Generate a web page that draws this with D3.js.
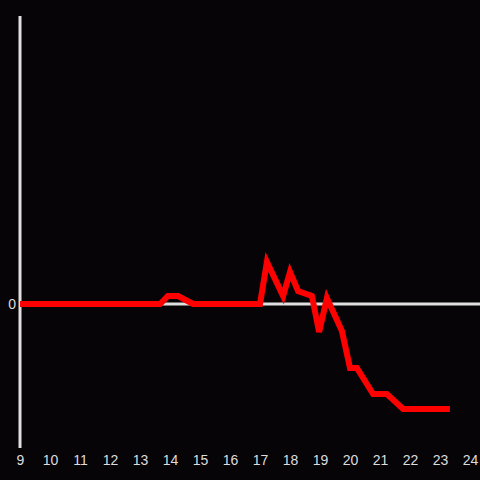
<!DOCTYPE html>
<html>
<head>
<meta charset="utf-8">
<script src="https://cdn.jsdelivr.net/npm/d3@7"></script>
<style>
  html, body { margin: 0; padding: 0; background: #060407; }
  svg { display: block; }
</style>
</head>
<body>
<div id="chart"></div>
<script>
// hour of day and value
const hours  = [9, 13.67, 13.93, 14.27, 14.77, 17.0, 17.23, 17.77, 18.0, 18.27, 18.73, 18.97, 19.23, 19.73, 20.0, 20.23, 20.77, 21.23, 21.77, 23.33]
const values = [0, 0, 0.08, 0.08, 0, 0, 0.42, 0.08, 0.32, 0.13, 0.08, -0.28, 0.06, -0.27, -0.64, -0.64, -0.90, -0.90, -1.05, -1.05]
const xTicks = [9, 10, 11, 12, 13, 14, 15, 16, 17, 18, 19, 20, 21, 22, 23, 24]
const yTicks = [0]

const width = 480, height = 480

const svg = d3.select('#chart')
  .append('svg')
    .attr('width', width)
    .attr('height', height)

svg.append('rect')
    .attr('width', width)
    .attr('height', height)
    .attr('fill', '#060407')

const x = d3.scaleLinear()
    .domain([9, 24])
    .range([20, 470])

const y = d3.scaleLinear()
    .domain([-1.45, 2.87])
    .range([448, 16])

const axisColor = '#e0e0e0'

// zero line
svg.append('line')
    .attr('x1', x(9))
    .attr('x2', width)
    .attr('y1', y(0) + 1)
    .attr('y2', y(0) + 1)
    .attr('stroke', axisColor)
    .attr('stroke-width', 3)

// y axis
svg.append('line')
    .attr('x1', x(9))
    .attr('x2', x(9))
    .attr('y1', y.range()[1])
    .attr('y2', y.range()[0])
    .attr('stroke', axisColor)
    .attr('stroke-width', 3)

const xAxis = d3.axisBottom(x).tickValues(xTicks).tickSize(0).tickPadding(0)
svg.append('g')
    .attr('transform', `translate(0,${455})`)
    .call(xAxis)
    .call(g => g.select('.domain').remove())
    .selectAll('text')
      .attr('fill', '#dddddd')
      .attr('font-size', 14)
      .attr('font-family', 'Liberation Sans, Arial, sans-serif')
      .attr('dy', '0.71em')

const yAxis = d3.axisLeft(y).tickValues(yTicks).tickFormat(d3.format('d')).tickSize(0).tickPadding(4)
svg.append('g')
    .attr('transform', `translate(${x(9)},1)`)
    .call(yAxis)
    .call(g => g.select('.domain').remove())
    .selectAll('text')
      .attr('fill', '#dddddd')
      .attr('font-size', 14)
      .attr('font-family', 'Liberation Sans, Arial, sans-serif')

const data = hours.map((h, i) => ({ h: h, v: values[i] }))

svg.append('path')
    .datum(data)
    .attr('fill', 'none')
    .attr('stroke', '#ff0000')
    .attr('stroke-width', 6)
    .attr('stroke-linejoin', 'miter')
    .attr('d', d3.line()
      .x(d => x(d.h))
      .y(d => y(d.v) + 1))
</script>
</body>
</html>
